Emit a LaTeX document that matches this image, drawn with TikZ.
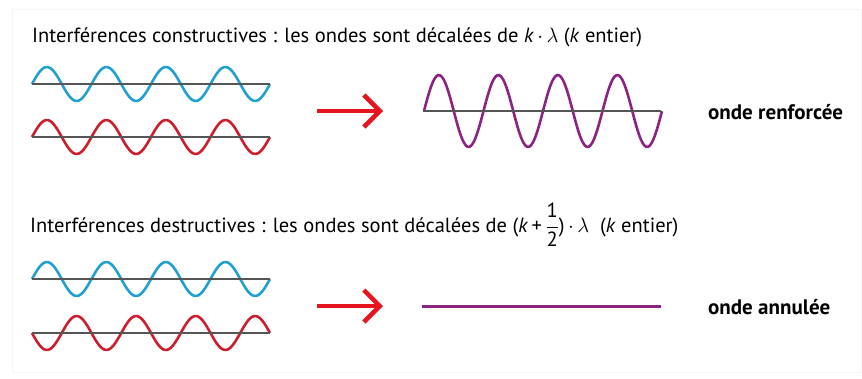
\documentclass[tikz,border=0pt]{standalone}
\usepackage{fontspec}
\setmainfont{PT Sans}
\usetikzlibrary{arrows.meta}

\definecolor{waveblue}{RGB}{35,160,210}
\definecolor{wavered}{RGB}{205,30,45}
\definecolor{wavepurple}{RGB}{140,35,130}
\definecolor{axisgray}{RGB}{85,85,85}
\definecolor{arrowred}{RGB}{230,20,30}

\begin{document}
\begin{tikzpicture}[x=1pt, y=-1pt,
        axis/.style={draw=axisgray, line width=1.4pt},
        wave/.style={line width=2.6pt, smooth, samples=121},
        heading/.style={anchor=base west, inner sep=0pt, font=\fontsize{20.5}{24}\selectfont},
        result/.style={anchor=west, inner sep=0pt, font=\fontsize{21}{24}\selectfont\bfseries},
        bigarrow/.style={draw=arrowred, line width=3.5pt, -{Straight Barb[length=16pt, width=32pt, line width=4.5pt]}}
    ]
    \useasboundingbox (0,0) rectangle (862,378);
    \draw[black!4] (12,9) rectangle (861,372);

    % constructive
    \node[heading] (TitleC) at (32,42) {Interférences constructives : les ondes sont décalées de \textit{k}\,$\cdot$\,$\lambda$ (\textit{k} entier)};
    \draw[wave, waveblue] plot[domain=0:4] ({32+59.5*\x},{84-17*sin(360*\x)});
    \draw[axis] (32,84) -- (270,84);
    \draw[wave, wavered] plot[domain=0:4] ({32+59.5*\x},{137-17*sin(360*\x)});
    \draw[axis] (32,137) -- (270,137);
    \coordinate (ArrCs) at (317,111);
    \coordinate (ArrCe) at (383,111);
    \draw[bigarrow] (ArrCs) -- (ArrCe);
    \draw[wave, wavepurple] plot[domain=0:4] ({424+59.5*\x},{111-36*sin(360*\x)});
    \draw[axis] (423,111) -- (661,111);
    \node[result] (Renf) at (708,112) {onde renforcée};

    % destructive
    \node[heading] (TitleD) at (30,232) {Interférences destructives : les ondes sont décalées de (\textit{k}\,+\,$\displaystyle\frac{\mbox{1}}{\mbox{2}}$)\,$\cdot$\,$\lambda$\ \ (\textit{k} entier)};
    \draw[wave, waveblue] plot[domain=0:4] ({32+59.5*\x},{279-17*sin(360*\x)});
    \draw[axis] (32,279) -- (270,279);
    \draw[wave, wavered] plot[domain=0:4] ({32+59.5*\x},{333+17*sin(360*\x)});
    \draw[axis] (32,333) -- (270,333);
    \coordinate (ArrDs) at (317,306);
    \coordinate (ArrDe) at (383,306);
    \draw[bigarrow] (ArrDs) -- (ArrDe);
    \draw[wavepurple, line width=3pt] (422,306) -- (661,306);
    \node[result] (Annul) at (708,307) {onde annulée};
\end{tikzpicture}
\end{document}
